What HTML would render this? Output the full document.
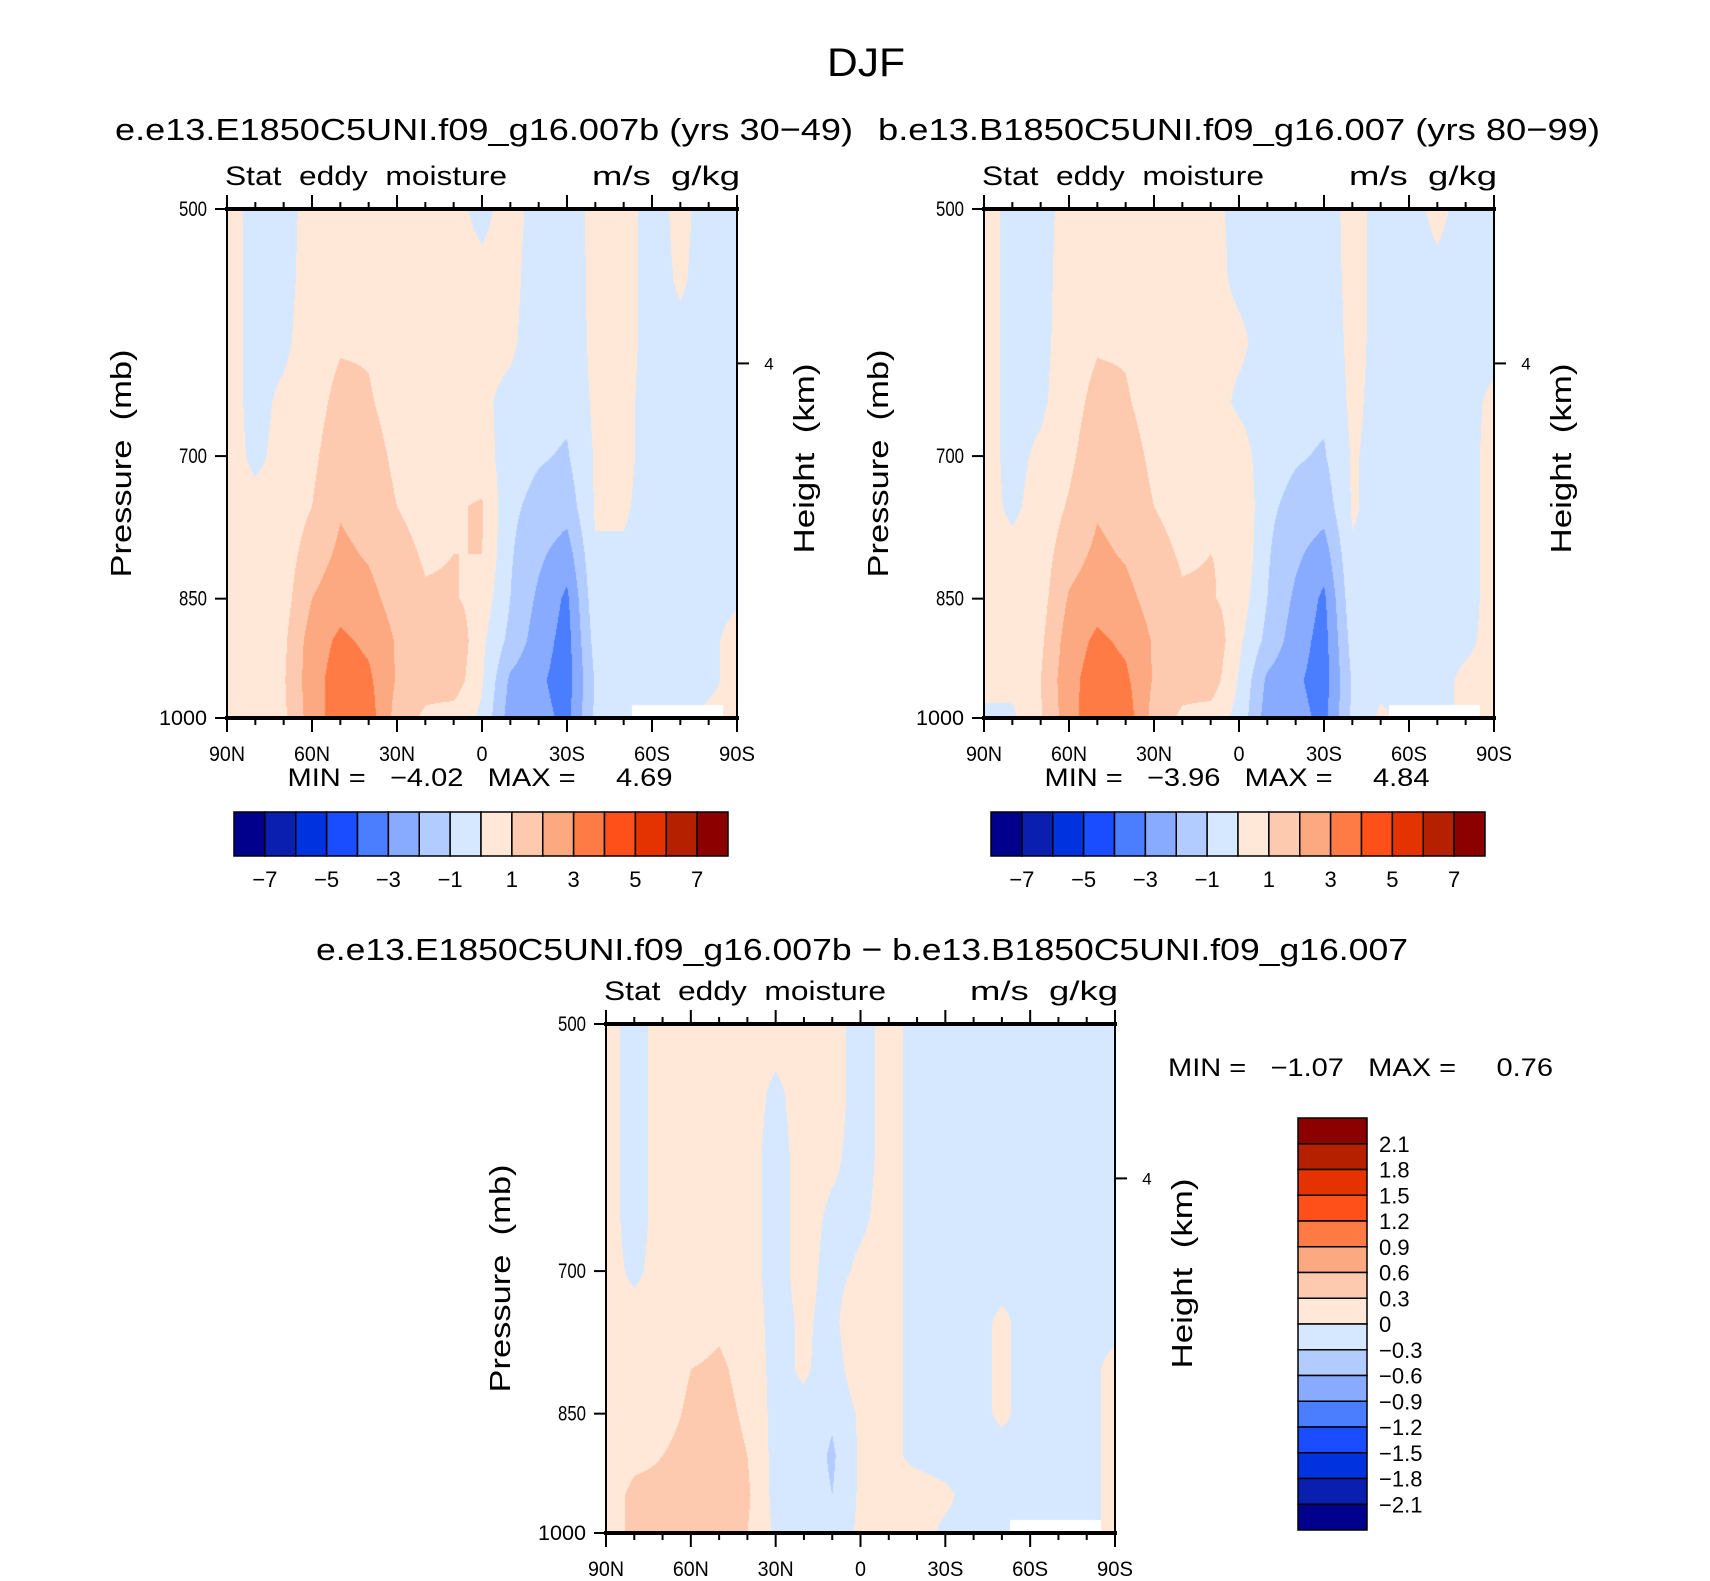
<!DOCTYPE html>
<html><head><meta charset="utf-8"><style>
body{margin:0;background:#fff;}
#wrap{position:relative;width:1710px;height:1581px;overflow:hidden;background:#fff;font-family:"Liberation Sans",sans-serif;}
canvas{position:absolute;}
svg{position:absolute;left:0;top:0;}
svg text{white-space:pre;}
</style></head><body>
<div id="wrap">
<canvas id="c1"></canvas>
<canvas id="c2"></canvas>
<canvas id="c3"></canvas>
<svg id="s" width="1710" height="1581"></svg>
</div>
<script>
const latLabels=["90N","60N","30N","0","30S","60S","90S"];
const pressureLevels=[500,550,600,650,700,750,800,850,900,950,1000];
const pressureTicks=[500,700,850,1000];
const barLabelsMain=["-7","-5","-3","-1","1","3","5","7"];
const barLabelsDiff=["2.1","1.8","1.5","1.2","0.9","0.6","0.3","0","-0.3","-0.6","-0.9","-1.2","-1.5","-1.8","-2.1"];
const palette=["#00008c","#0a1fb0","#0033e0","#1a4dff","#4a7dff","#88aaff","#b3ccff","#d6e8ff","#ffe8d8","#fdcab0","#fca880","#fe7b45","#ff5019","#e53300","#b52000","#8c0000"];
// columns 90N..90S every 10deg; rows = pressureLevels
const field1=[
[0.4,0.4,0.4,0.4,0.4,0.4,0.4,0.4,0.4,0.4,0.3],
[-0.3,-0.3,-0.3,-0.3,-0.2,0.3,0.4,0.4,0.4,0.4,0.2],
[-0.3,-0.3,-0.2,0.2,0.3,0.4,0.5,0.6,0.8,0.9,0.8],
[0.3,0.4,0.5,0.6,0.8,1.0,1.5,2.0,2.5,2.6,2.5],
[0.4,0.6,0.9,1.3,1.6,1.9,2.2,2.6,3.2,3.5,3.6],
[0.4,0.6,0.9,1.1,1.4,1.6,1.9,2.3,2.8,3.2,3.5],
[0.3,0.4,0.5,0.6,0.8,1.0,1.3,1.6,1.9,1.9,1.6],
[0.3,0.3,0.4,0.5,0.6,0.7,0.9,1.1,1.5,1.4,0.8],
[0.2,0.3,0.4,0.5,0.7,0.9,1.0,1.1,1.9,1.6,0.5],
[-0.2,0.2,0.3,0.2,0.5,1.1,1.0,0.6,0.2,0.1,-0.2],
[0.3,0.3,0.2,-0.3,-0.6,-0.8,-0.9,-1.0,-1.3,-2.2,-2.5],
[-0.3,-0.5,-0.6,-0.7,-0.9,-1.3,-1.8,-2.2,-2.5,-2.8,-2.6],
[-0.5,-0.6,-0.7,-0.8,-1.1,-1.6,-2.5,-3.2,-3.4,-3.5,-3.3],
[0.3,0.3,0.3,0.2,0.1,0.1,-0.1,-0.3,-0.6,-0.9,-0.8],
[0.3,0.3,0.3,0.2,0.2,0.1,-0.1,-0.3,-0.4,-0.3,-0.3],
[-0.3,-0.3,-0.3,-0.3,-0.3,-0.3,-0.3,-0.3,-0.3,-0.3,-0.3],
[0.2,0.1,-0.2,-0.3,-0.3,-0.3,-0.3,-0.3,-0.3,-0.3,-0.3],
[-0.3,-0.3,-0.3,-0.3,-0.3,-0.3,-0.3,-0.3,-0.2,-0.2,0.2],
[-0.3,-0.3,-0.3,-0.3,-0.3,-0.3,-0.2,-0.1,0.3,0.3,0.3]];
const field2=[
[0.4,0.4,0.4,0.4,0.4,0.4,0.4,0.4,0.4,0.3,-0.2],
[-0.3,-0.3,-0.3,-0.3,-0.3,-0.2,0.3,0.4,0.4,0.3,-0.2],
[-0.3,-0.3,-0.3,-0.2,0.2,0.4,0.5,0.6,0.8,1.0,0.9],
[0.3,0.4,0.5,0.6,0.8,1.1,1.6,2.1,2.5,2.7,2.6],
[0.4,0.6,0.9,1.3,1.6,1.9,2.2,2.6,3.2,3.5,3.7],
[0.4,0.6,0.9,1.1,1.4,1.6,1.9,2.3,2.8,3.2,3.6],
[0.3,0.4,0.5,0.6,0.8,1.0,1.3,1.6,1.9,1.9,1.6],
[0.3,0.3,0.4,0.5,0.6,0.7,0.9,1.1,1.4,1.4,0.8],
[0.2,0.3,0.4,0.5,0.7,0.9,1.0,1.1,1.9,1.6,0.5],
[-0.2,-0.2,0.2,-0.2,0.5,1.0,0.9,0.6,0.2,-0.1,-0.3],
[-0.2,-0.3,-0.4,-0.4,-0.6,-0.8,-0.9,-1.0,-1.3,-2.2,-2.5],
[-0.3,-0.5,-0.6,-0.7,-0.9,-1.3,-1.8,-2.2,-2.5,-2.8,-2.6],
[-0.4,-0.5,-0.7,-0.8,-1.1,-1.6,-2.5,-3.2,-3.4,-3.5,-3.3],
[0.3,0.3,0.3,0.2,0.1,0.1,-0.1,-0.3,-0.6,-0.9,-0.8],
[-0.3,-0.3,-0.3,-0.3,-0.3,-0.3,-0.3,-0.3,-0.4,-0.3,0.2],
[-0.3,-0.3,-0.3,-0.3,-0.3,-0.3,-0.3,-0.3,-0.3,-0.3,-0.3],
[0.2,-0.2,-0.3,-0.3,-0.3,-0.3,-0.3,-0.3,-0.3,-0.3,-0.3],
[-0.3,-0.3,-0.3,-0.3,-0.3,-0.3,-0.3,-0.3,-0.2,0.2,0.2],
[-0.3,-0.3,-0.3,0.2,0.3,0.3,0.3,0.3,0.3,0.3,0.3]];
const field3=[
[0.1,0.1,0.1,0.1,0.1,0.1,0.1,0.1,0.15,0.2,0.2],
[-0.1,-0.1,-0.1,-0.1,-0.05,0.1,0.1,0.15,0.25,0.35,0.35],
[0.1,0.1,0.1,0.1,0.1,0.1,0.15,0.2,0.3,0.35,0.3],
[0.1,0.1,0.1,0.1,0.1,0.15,0.3,0.35,0.4,0.45,0.4],
[0.1,0.1,0.1,0.1,0.15,0.25,0.35,0.4,0.45,0.5,0.6],
[0.1,0.1,0.1,0.1,0.1,0.15,0.2,0.25,0.3,0.35,0.3],
[0.1,-0.05,-0.1,-0.1,-0.1,-0.1,-0.1,-0.1,-0.1,-0.1,-0.05],
[0.1,0.1,0.1,0.1,0.1,0.05,0.05,-0.1,-0.1,-0.1,-0.1],
[0.1,0.1,0.05,-0.05,-0.1,-0.1,-0.15,-0.25,-0.35,-0.3,-0.15],
[-0.1,-0.1,-0.1,-0.05,0.05,0.3,0.2,0.05,0.05,0.05,0.05],
[0.1,0.1,0.1,0.1,0.1,0.1,0.1,0.1,0.05,0.05,0.05],
[-0.1,-0.1,-0.1,-0.1,-0.1,-0.1,-0.1,-0.1,-0.05,0.1,0.1],
[-0.1,-0.1,-0.1,-0.1,-0.1,-0.1,-0.1,-0.1,-0.1,0.05,-0.05],
[-0.1,-0.1,-0.1,-0.1,-0.1,-0.1,-0.1,-0.1,-0.1,-0.1,-0.1],
[-0.1,-0.1,-0.1,-0.1,-0.1,0.05,0.05,0.05,-0.1,-0.1,-0.1],
[-0.1,-0.1,-0.1,-0.1,-0.1,-0.1,-0.1,-0.1,-0.1,-0.1,-0.1],
[-0.1,-0.1,-0.1,-0.1,-0.1,-0.1,-0.1,-0.1,-0.1,-0.1,-0.1],
[-0.1,-0.1,-0.1,-0.1,-0.1,-0.1,-0.1,-0.1,-0.1,-0.1,-0.1],
[-0.1,-0.1,-0.1,-0.1,-0.1,-0.1,0.1,0.1,0.1,0.1,0.1]];

const NS="http://www.w3.org/2000/svg";
const svg=document.getElementById('s');
function el(tag,attrs,parent){const e=document.createElementNS(NS,tag);for(const k in attrs)e.setAttribute(k,attrs[k]);(parent||svg).appendChild(e);return e;}
function txt(s,x,y,size,anchor,parent,extra){const t=el('text',Object.assign({x:x,y:y,'font-size':size,'text-anchor':anchor||'middle','font-family':'Liberation Sans, sans-serif',fill:'#000'},extra||{}),parent);t.textContent=s;return t;}

const LP0=Math.log(500),LP1=Math.log(1000);
function makePanel(P){
  const xOf=lat=>P.x0+(90-lat)/180*P.w;
  const yOf=p=>P.y0+(Math.log(p)-LP0)/(LP1-LP0)*P.h;
  const cv=document.getElementById(P.canvas);
  cv.width=P.w;cv.height=P.h;cv.style.left=P.x0+'px';cv.style.top=P.y0+'px';
  const ctx=cv.getContext('2d');const img=ctx.createImageData(P.w,P.h);
  const rgb=palette.map(h=>[parseInt(h.substr(1,2),16),parseInt(h.substr(3,2),16),parseInt(h.substr(5,2),16)]);
  const D=P.data,nc=D.length,nr=pressureLevels.length;
  for(let py=0;py<P.h;py++){
    const p=Math.exp(LP0+(py+0.5)/P.h*(LP1-LP0));
    let r=(p-500)/50;let r0=Math.min(Math.floor(r),nr-2);let fr=r-r0;
    for(let px=0;px<P.w;px++){
      const lat=90-(px+0.5)/P.w*180;
      let c=(px+0.5)/P.w*(nc-1);let c0=Math.min(Math.floor(c),nc-2);let fc=c-c0;
      const v=(D[c0][r0]*(1-fc)+D[c0+1][r0]*fc)*(1-fr)+(D[c0][r0+1]*(1-fc)+D[c0+1][r0+1]*fc)*fr;
      let k=Math.floor(v/P.step)+8;k=Math.max(0,Math.min(15,k));
      let col=rgb[k];
      if(lat<-53&&lat>-85&&p>983)col=[255,255,255];
      const i=(py*P.w+px)*4;img.data[i]=col[0];img.data[i+1]=col[1];img.data[i+2]=col[2];img.data[i+3]=255;
    }
  }
  ctx.putImageData(img,0,0);
  const g=el('g',{});
  
  
  el('rect',{x:P.x0,y:P.y0,width:P.w,height:P.h,fill:'none',stroke:'#000','stroke-width':2},g);
  el('line',{x1:P.x0-2,x2:P.x0+P.w+2,y1:P.y0,y2:P.y0,stroke:'#000','stroke-width':4},g);
  el('line',{x1:P.x0-2,x2:P.x0+P.w+2,y1:P.y0+P.h,y2:P.y0+P.h,stroke:'#000','stroke-width':4},g);
  for(let lat=90;lat>=-90;lat-=10){
    const x=xOf(lat);const major=lat%30===0;const L=major?14:7;
    el('line',{x1:x,x2:x,y1:P.y0,y2:P.y0-L,stroke:'#000','stroke-width':2},g);
    el('line',{x1:x,x2:x,y1:P.y0+P.h,y2:P.y0+P.h+L,stroke:'#000','stroke-width':2},g);
  }
  latLabels.forEach((s,i)=>{const lat=90-i*30;const t=txt(s,xOf(lat),P.y0+P.h+43,21,'middle',g,{'textLength':s.length===1?11:36,'lengthAdjust':'spacingAndGlyphs'});});
  pressureTicks.forEach(p=>{const y=yOf(p);el('line',{x1:P.x0,x2:P.x0-12,y1:y,y2:y,stroke:'#000','stroke-width':2},g);
    const t=txt(String(p),P.x0-20,y+7,21,'end',g,{'textLength':p===1000?48:28,'lengthAdjust':'spacingAndGlyphs'});});
  const y4=yOf(617);el('line',{x1:P.x0+P.w,x2:P.x0+P.w+12,y1:y4,y2:y4,stroke:'#000','stroke-width':2},g);
  txt('4',P.x0+P.w+32,y4+6,17,'middle',g);
  const yl=txt('Pressure  (mb)',0,0,29,'middle',g,{transform:`translate(${P.x0-96},${P.y0+P.h/2}) rotate(-90)`,'textLength':228,'lengthAdjust':'spacingAndGlyphs'});
  
  const hl=txt('Height  (km)',0,0,29,'middle',g,{transform:`translate(${P.x0+P.w+77},${P.y0+P.h/2-5}) rotate(-90)`,'textLength':190,'lengthAdjust':'spacingAndGlyphs'});
  
  const st=txt('Stat  eddy  moisture',P.x0-2,P.y0-24,27,'start',g,{'textLength':282,'lengthAdjust':'spacingAndGlyphs'});
  
  const un=txt('m/s  g/kg',P.x0+P.w+3,P.y0-24,27,'end',g,{'textLength':148,'lengthAdjust':'spacingAndGlyphs'});
  
}
makePanel({canvas:'c1',name:'left-panel',x0:227,y0:209,w:510,h:509,data:field1,step:1});
makePanel({canvas:'c2',name:'right-panel',x0:984,y0:209,w:510,h:509,data:field2,step:1});
makePanel({canvas:'c3',name:'difference-panel',x0:606,y0:1024,w:509,h:509,data:field3,step:0.3});

let t=txt('DJF',866,76,40,'middle',svg,{'textLength':78,'lengthAdjust':'spacingAndGlyphs'});

t=txt('e.e13.E1850C5UNI.f09_g16.007b (yrs 30−49)',484,140,31,'middle',svg,{'textLength':738,'lengthAdjust':'spacingAndGlyphs'});

t=txt('b.e13.B1850C5UNI.f09_g16.007 (yrs 80−99)',1239,140,31,'middle',svg,{'textLength':722,'lengthAdjust':'spacingAndGlyphs'});

t=txt('e.e13.E1850C5UNI.f09_g16.007b − b.e13.B1850C5UNI.f09_g16.007',862,960,31,'middle',svg,{'textLength':1092,'lengthAdjust':'spacingAndGlyphs'});

t=txt('MIN =   −4.02   MAX =     4.69',480,786,25,'middle',svg,{'textLength':385,'lengthAdjust':'spacingAndGlyphs'});

t=txt('MIN =   −3.96   MAX =     4.84',1237,786,25,'middle',svg,{'textLength':385,'lengthAdjust':'spacingAndGlyphs'});

t=txt('MIN =   −1.07   MAX =     0.76',1168,1076,25,'start',svg,{'textLength':385,'lengthAdjust':'spacingAndGlyphs'});


function hbar(x0,name){
  const g=el('g',{});
  
  
  const y0=812,h=44,w=494/16;
  palette.forEach((c,i)=>{const r=el('rect',{x:x0+i*w,y:y0,width:w,height:h,fill:c,stroke:'#000','stroke-width':1.5},g);
    });
  barLabelsMain.forEach((s,j)=>{const k=1+2*j;txt(s.replace('-','−'),x0+k*w,887,22,'middle',g);});
}
hbar(234,'left-colorbar');hbar(991,'right-colorbar');
(function(){
  const g=el('g',{});
  
  
  const x0=1298,y0=1118,w=69,h=412/16;
  palette.slice().reverse().forEach((c,i)=>{const r=el('rect',{x:x0,y:y0+i*h,width:w,height:h,fill:c,stroke:'#000','stroke-width':1.5},g);
    });
  barLabelsDiff.forEach((s,j)=>{const k=j+1;txt(s.replace('-','−'),x0+w+12,y0+k*h+8,22,'start',g);});
})();
</script>
</body></html>
